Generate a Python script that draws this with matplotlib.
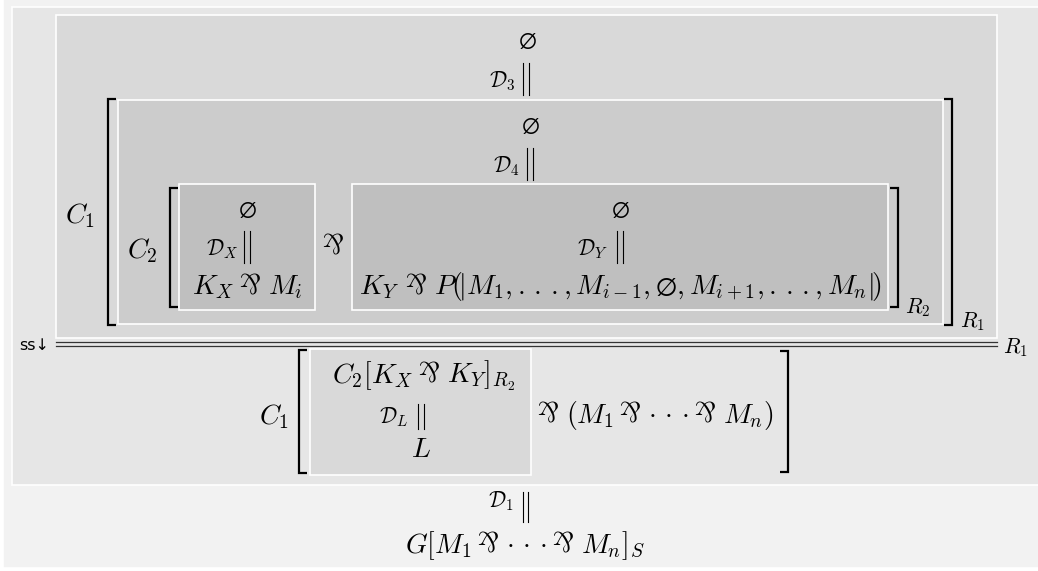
import matplotlib
matplotlib.use("Agg")
import matplotlib.pyplot as plt
from matplotlib.patches import Rectangle

plt.rcParams['mathtext.fontset'] = 'cm'

W, H = 1038, 571
PAR = 'PAR'   # the "par" connective, drawn as a turned ampersand
DOTS = 'DOTS'  # centred dots, raised to the math axis

# nested shaded boxes: (x0, y0, x1, y1, fill)   pixel coords, y downwards
boxes = [
    (3, -2, 1040, 568, '#f2f2f2'),
    (12, 6.5, 1040, 485, '#e6e6e6'),
    (56, 15, 997, 338, '#d9d9d9'),
    (118, 100, 943, 324, '#cccccc'),
    (179, 184, 315, 310, '#bfbfbf'),
    (352, 184, 888, 310, '#bfbfbf'),
    (310, 349, 531, 475, '#d9d9d9'),
]

# brackets: (x, y0, y1, side)
brackets = [
    (108, 99, 325, 'L'), (952, 99, 325, 'R'),
    (170, 188, 307, 'L'), (898, 188, 307, 'R'),
    (299, 350, 473, 'L'), (788, 351, 472, 'R'),
]

# empty sets (centre x, centre y)
empties = [(527, 40), (530, 125), (247, 209), (620, 209)]

# formulas: (x, baseline y, align, pieces)
formulas = [
    (80, 223, 'center', [r'$C_1$']),
    (142, 258, 'center', [r'$C_2$']),
    (247, 294, 'center', [r'$K_X$', PAR, r'$M_i$']),
    (334, 255, 'center', [PAR]),
    (620, 294, 'center', [r'$K_Y$', PAR,
                          r'$P(\!|M_1,.\,.\,.,M_{i-1},\varnothing,M_{i+1},.\,.\,.,M_n|\!)$']),
    (274, 424, 'center', [r'$C_1$']),
    (424, 383, 'center', [r'$C_2[K_X$', PAR, r'$K_Y]_{R_2}$']),
    (421, 457, 'center', [r'$L$']),
    (538, 423, 'left', [PAR, r'$(M_1$', PAR, DOTS, PAR, r'$M_n)$']),
    (525, 553, 'center', [r'$G[M_1$', PAR, DOTS, PAR, r'$M_n]_S$']),
]

# rule names: (right x, baseline y, text)
rules = [
    (515, 87, r'$\mathcal{D}_3$'),
    (520, 172, r'$\mathcal{D}_4$'),
    (238, 255, r'$\mathcal{D}_X$'),
    (608, 255, r'$\mathcal{D}_Y$'),
    (408, 423, r'$\mathcal{D}_L$'),
    (514, 507, r'$\mathcal{D}_1$'),
]
# double bars: (x, y_top, y_bottom)
bars = [(526, 63, 95), (530, 148, 180), (247, 231, 263),
        (620, 231, 263), (421, 404, 429), (525.5, 492, 522)]

# bracket / rule subscripts: (left x, baseline y, text)
subs = [(905, 313, r'$R_2$'), (960, 327, r'$R_1$'), (1003, 353, r'$R_1$')]

fig = plt.figure(figsize=(W / 100, H / 100), dpi=100)
ax = fig.add_axes([0, 0, 1, 1])
ax.set_xlim(0, W)
ax.set_ylim(H, 0)
ax.axis('off')
fig.patch.set_facecolor('white')
renderer = fig.canvas.get_renderer()


def formula(x, y, pieces, align, size=20):
    gap = 0.3 * size
    em = size * 100 / 72
    items = []
    for p in pieces:
        if p == PAR:
            t = ax.text(0, y, r'$&$', fontsize=size, rotation=180,
                        ha='left', va='bottom')
        elif p == DOTS:
            t = ax.text(0, y - 0.2 * em, r'$.\,.\,.$', fontsize=size,
                        ha='left', va='baseline')
        else:
            t = ax.text(0, y, p, fontsize=size, ha='left', va='baseline')
        items.append(t)
    widths = [t.get_window_extent(renderer).width for t in items]
    total = sum(widths) + gap * (len(items) - 1)
    cur = x - total / 2 if align == 'center' else x
    for t, w in zip(items, widths):
        t.set_x(cur)
        cur += w + gap


for x0, y0, x1, y1, c in boxes:
    ax.add_patch(Rectangle((x0, y0), x1 - x0, y1 - y0, facecolor=c,
                           edgecolor='white', linewidth=1.2))

for x, y0, y1, side in brackets:
    d = 8 if side == 'L' else -8
    ax.plot([x + d, x, x, x + d], [y0, y0, y1, y1], color='black',
            linewidth=1.6, solid_joinstyle='miter', solid_capstyle='butt')

for x, y in empties:
    ax.text(x, y, r'$\varnothing$', fontsize=17, ha='center', va='center')

for x, y, align, pieces in formulas:
    formula(x, y, pieces, align)

for x, y, t in rules:
    ax.text(x, y, t, fontsize=15.5, ha='right', va='baseline')

for x, y0, y1 in bars:
    ax.plot([x - 2.8, x - 2.8], [y0, y1], color='black', linewidth=0.8)
    ax.plot([x + 2.8, x + 2.8], [y0, y1], color='black', linewidth=0.8)

for x, y, t in subs:
    ax.text(x, y, t, fontsize=15.5, ha='left', va='baseline')

# inference double line
ax.plot([56, 997], [342, 342], color='#333333', linewidth=0.9)
ax.plot([56, 997], [346, 346], color='#333333', linewidth=0.9)
ax.text(34, 345, 'ss\u2193', fontsize=11.5, ha='center', va='center',
        family='DejaVu Sans')

fig.savefig('out.png', dpi=100, facecolor='white')
